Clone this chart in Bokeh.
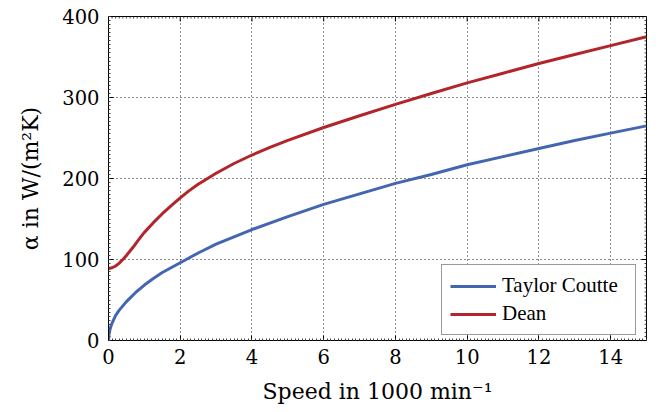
from bokeh.plotting import figure
from bokeh.models import FixedTicker, Legend, LegendItem, Range1d
from bokeh.embed import file_html
from bokeh.resources import INLINE
import numpy as np

# Heat transfer coefficient over rotational speed (speed in 1000 min^-1)
speed_tc = [0, 0.02, 0.05, 0.1, 0.2, 0.3, 0.5, 0.75, 1, 1.25, 1.5, 2, 2.5, 3,
            4, 5, 6, 7, 8, 9, 10, 11, 12, 13, 14, 15]
taylor_couette = [0, 9.5, 15, 21.5, 31, 37.5, 48, 59, 68.5, 76.5, 84, 96,
                  108, 119, 137, 153, 168, 181, 194, 205, 217, 227, 237,
                  247, 256, 265]

speed_dean = [0, 0.1, 0.2, 0.3, 0.4, 0.5, 0.6, 0.7, 0.8, 0.9, 1, 1.25, 1.5,
              1.75, 2, 2.25, 2.5, 3, 3.5, 4, 4.5, 5, 6, 7, 8, 9, 10, 11, 12,
              13, 14, 15]
dean = [89, 89.8, 92, 95.5, 100, 105, 110.5, 116, 122, 128, 133.5, 145.5,
        156.5, 166.5, 176, 185, 193, 206.5, 218.5, 229, 238.5, 247, 263,
        277.5, 291.5, 305, 318, 330, 342, 353, 364, 375]

x_ticks = [0, 2, 4, 6, 8, 10, 12, 14]
y_ticks = [0, 100, 200, 300, 400]
x_minor = [round(v, 1) for v in np.arange(0, 15.001, 0.1)]
y_minor = list(range(0, 401, 5))

X_MAX, Y_MAX = 15, 400
BLUE = "#4466b0"
RED = "#b2252a"
TICK_FONT = "DejaVu Serif"
LABEL_FONT = "DejaVu Serif"

p = figure(width=666, height=412, output_backend="svg", toolbar_location=None,
           x_range=Range1d(0, X_MAX), y_range=Range1d(0, Y_MAX),
           min_border_left=108, min_border_right=20,
           min_border_top=16, min_border_bottom=72,
           background_fill_color="white", border_fill_color="white")
p.outline_line_color = "black"
p.outline_line_width = 1

x_ticker = FixedTicker(ticks=x_ticks, minor_ticks=x_minor)
y_ticker = FixedTicker(ticks=y_ticks, minor_ticks=y_minor)


def style_axis(ax):
    ax.major_tick_in = 5
    ax.major_tick_out = 0
    ax.minor_tick_in = 2
    ax.minor_tick_out = 0
    ax.axis_line_color = "black"
    ax.major_tick_line_color = "black"
    ax.minor_tick_line_color = "#444444"
    ax.major_label_text_font = TICK_FONT
    ax.major_label_text_color = "black"
    ax.major_label_text_font_size = "19.5px"
    ax.axis_label_text_font = LABEL_FONT
    ax.axis_label_text_font_size = "22px"
    ax.axis_label_text_font_style = "normal"
    ax.axis_label_text_color = "black"


xa = p.xaxis[0]
xa.ticker = x_ticker
style_axis(xa)
xa.major_label_standoff = 8
xa.axis_label = "Speed in 1000 min⁻¹"
xa.axis_label_standoff = 12

ya = p.yaxis[0]
ya.ticker = y_ticker
style_axis(ya)
ya.major_label_standoff = 9
ya.axis_label = "α in W/(m²K)"
ya.axis_label_standoff = 16

# mirrored inward ticks on the top and right frame edges
x_minor_only = [v for v in x_minor if v not in x_ticks]
y_minor_only = [v for v in y_minor if v not in y_ticks]
p.ray(x=x_ticks, y=[Y_MAX] * len(x_ticks), length=5, length_units="screen",
      angle=-np.pi / 2, line_color="black", line_width=1)
p.ray(x=x_minor_only, y=[Y_MAX] * len(x_minor_only), length=2,
      length_units="screen", angle=-np.pi / 2, line_color="#444444",
      line_width=1)
p.ray(x=[X_MAX] * len(y_ticks), y=y_ticks, length=5, length_units="screen",
      angle=np.pi, line_color="black", line_width=1)
p.ray(x=[X_MAX] * len(y_minor_only), y=y_minor_only, length=2,
      length_units="screen", angle=np.pi, line_color="#444444", line_width=1)

p.xgrid.ticker = x_ticker
p.ygrid.ticker = y_ticker
for g in (p.xgrid[0], p.ygrid[0]):
    g.grid_line_color = "black"
    g.grid_line_dash = "1 3"
    g.grid_line_width = 1
    g.grid_line_alpha = 0.9

r_tc = p.line(speed_tc, taylor_couette, line_color=BLUE, line_width=3)
r_dean = p.line(speed_dean, dean, line_color=RED, line_width=3)

legend = Legend(items=[LegendItem(label="Taylor Coutte", renderers=[r_tc]),
                       LegendItem(label="Dean", renderers=[r_dean])],
                location=(333, 5))
legend.label_text_font = "Liberation Serif"
legend.label_text_font_size = "21px"
legend.label_text_color = "black"
legend.glyph_width = 46
legend.glyph_height = 20
legend.label_height = 20
legend.label_width = 125
legend.label_standoff = 6
legend.spacing = 3
legend.padding = 8
legend.margin = 0
legend.border_line_color = "#333333"
legend.border_line_width = 1
legend.background_fill_color = "white"
legend.background_fill_alpha = 1
p.add_layout(legend)

open("out.html", "w").write(file_html(p, INLINE))
